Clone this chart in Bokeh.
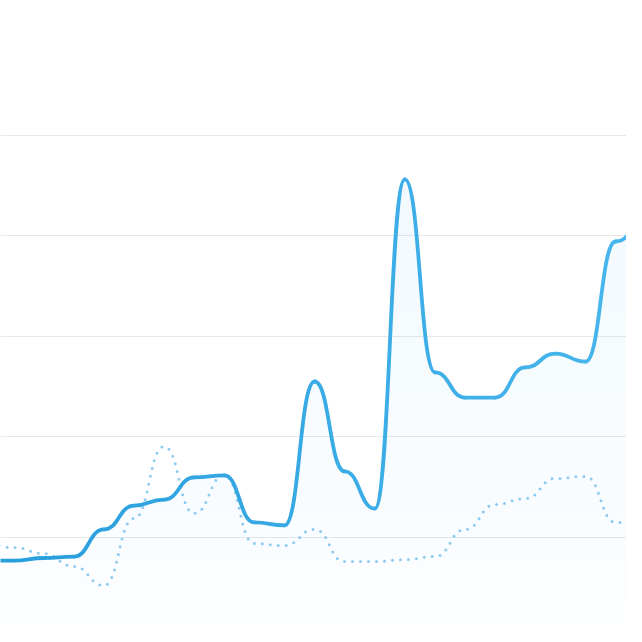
import numpy as np
from bokeh.plotting import figure
from bokeh.models import Range1d, Grid, FixedTicker, ColumnDataSource
from bokeh.embed import file_html
from bokeh.resources import INLINE

# ---- data ----
days = list(range(23))
current = [38.3, 38.3, 39.6, 40.3, 53.8, 65.7, 68.7, 79.7, 80.7, 57.3, 55.8, 127.5,
           82.7, 64.2, 228.1, 132.0, 119.5, 119.5, 134.5, 141.4, 137.4, 197.2, 207.2]
previous = [46.8, 44.8, 41.8, 35.4, 25.9, 59.3, 95.1, 61.8, 80.7, 46.8, 45.8, 53.8,
            37.8, 37.8, 38.8, 40.3, 53.8, 66.2, 69.2, 79.2, 80.2, 57.3, 55.8]
grid_values = [0, 50, 100, 150, 200, 250]


# ---- "bump" smoothing: cubic segments with horizontal tangents at each point ----
def segments(x, y):
    seg = dict(x0=[], y0=[], cx0=[], cy0=[], cx1=[], cy1=[], x1=[], y1=[])
    for i in range(len(x) - 1):
        xm = (x[i] + x[i + 1]) / 2.0
        seg["x0"].append(x[i]); seg["y0"].append(y[i])
        seg["cx0"].append(xm); seg["cy0"].append(y[i])
        seg["cx1"].append(xm); seg["cy1"].append(y[i + 1])
        seg["x1"].append(x[i + 1]); seg["y1"].append(y[i + 1])
    return seg


def path(seg, n=40):
    xs, ys = [], []
    s = np.linspace(0, 1, n)
    for i in range(len(seg["x0"])):
        a = (1 - s) ** 3
        b = 3 * (1 - s) ** 2 * s
        c = 3 * (1 - s) * s ** 2
        d = s ** 3
        px = a * seg["x0"][i] + b * seg["cx0"][i] + c * seg["cx1"][i] + d * seg["x1"][i]
        py = a * seg["y0"][i] + b * seg["cy0"][i] + c * seg["cy1"][i] + d * seg["y1"][i]
        if i > 0:
            px, py = px[1:], py[1:]
        xs.extend(px.tolist()); ys.extend(py.tolist())
    return xs, ys


p = figure(width=626, height=626, output_backend="svg", toolbar_location=None,
           x_axis_type=None, y_axis_type=None,
           x_range=Range1d(0.5648, 21.362), y_range=Range1d(5.478, 317.23),
           min_border=0, outline_line_color=None, background_fill_color="white")

p.add_layout(Grid(dimension=1, ticker=FixedTicker(ticks=grid_values),
                  grid_line_color="#e8e8e8", grid_line_width=1.2))

cur_seg = segments(days, current)
prev_seg = segments(days, previous)

# area under the current series, vertical fade (banded)
ax, ay = path(cur_seg)
ay = np.array(ay)
edges = np.linspace(0, 240, 13)
for k in range(len(edges) - 1):
    lo, hi = edges[k], edges[k + 1]
    top = np.clip(ay, lo, hi)
    if k == len(edges) - 2:
        top = np.clip(ay, lo, None)
    alpha = 0.012 + 0.055 * ((lo + hi) / 2) / 240
    p.varea(x=ax, y1=[lo] * len(ax), y2=top.tolist(), fill_color="#36a2eb",
            fill_alpha=alpha)

# previous series (dotted)
bx, by = path(prev_seg)
p.line(bx, by, line_color="#8ecaef", line_width=3, line_dash="0 8", line_cap="round",
       line_join="round")

# current series (solid, slight left-to-right colour shift)
nseg = len(cur_seg["x0"])
c_left = np.array([40, 158, 221])
c_right = np.array([72, 182, 236])
colors = []
for i in range(nseg):
    f = i / (nseg - 1)
    r, g, b = (c_left * (1 - f) + c_right * f).round().astype(int)
    colors.append("#%02x%02x%02x" % (r, g, b))
src = ColumnDataSource(dict(cur_seg, color=colors))
p.bezier(x0="x0", y0="y0", x1="x1", y1="y1", cx0="cx0", cy0="cy0", cx1="cx1", cy1="cy1",
         source=src, line_color="color", line_width=3.8, line_cap="round")

open("out.html", "w").write(file_html(p, INLINE))
